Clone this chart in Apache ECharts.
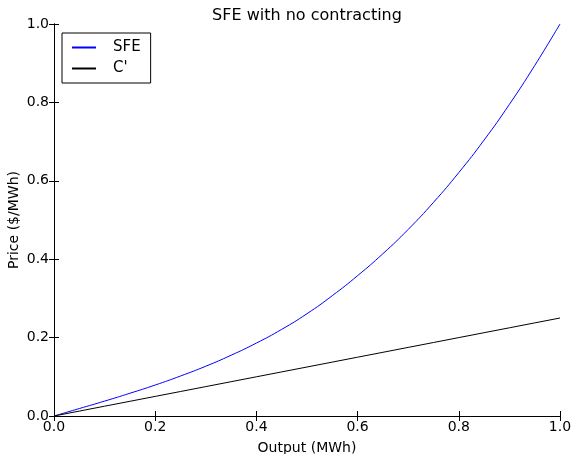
<!DOCTYPE html>
<html>
<head>
<meta charset="utf-8">
<script src="https://cdn.jsdelivr.net/npm/echarts@6/dist/echarts.min.js"></script>
<style>
  html, body { margin: 0; padding: 0; background: #fff; }
  #chart { width: 572px; height: 454px; }
</style>
</head>
<body>
<div id="chart"></div>
<script>
// output (MWh)
var xs = [0, 0.05, 0.1, 0.15, 0.2, 0.25, 0.3, 0.35, 0.4, 0.45, 0.5,
          0.55, 0.6, 0.65, 0.7, 0.75, 0.8, 0.85, 0.9, 0.95, 1.0];
// SFE price
var sfe = [0, 0.019, 0.038, 0.058, 0.079, 0.102, 0.127, 0.155, 0.186, 0.221, 0.261,
           0.307, 0.358, 0.414, 0.476, 0.545, 0.621, 0.704, 0.795, 0.894, 1.0];
// marginal cost C'
var cPrime = [0, 0.0125, 0.025, 0.0375, 0.05, 0.0625, 0.075, 0.0875, 0.1, 0.1125, 0.125,
              0.1375, 0.15, 0.1625, 0.175, 0.1875, 0.2, 0.2125, 0.225, 0.2375, 0.25];

function pairs(ys) {
    return xs.map(function (x, i) { return [x, ys[i]]; });
}

var font = 'DejaVu Sans';
var chart = echarts.init(document.getElementById('chart'));

var axisCommon = {
    type: 'value',
    min: 0,
    max: 1,
    interval: 0.2,
    axisLine: { show: true, lineStyle: { color: '#000', width: 1 } },
    axisTick: { show: true, inside: true, length: 5, lineStyle: { color: '#000' } },
    splitLine: { show: false }
};

var option = {
    animation: false,
    backgroundColor: '#fff',
    title: {
        text: 'SFE with no contracting',
        left: 302,
        textAlign: 'center',
        top: 3,
        textStyle: { fontFamily: font, fontSize: 16, fontWeight: 'normal', color: '#000' }
    },
    legend: {
        orient: 'vertical',
        left: 62,
        top: 33,
        padding: [7, 10, 7, 10],
        itemGap: 6,
        itemWidth: 24,
        itemHeight: 2,
        icon: 'rect',
        borderColor: '#000',
        borderWidth: 1,
        textStyle: { fontFamily: font, fontSize: 15, color: '#000', padding: [0, 0, 0, 12] },
        data: ['SFE', "C'"]
    },
    grid: { left: 54, right: 12, top: 24, bottom: 38, containLabel: false, outerBoundsMode: 'none' },
    xAxis: [
        Object.assign({}, axisCommon, {
            position: 'bottom',
            name: 'Output (MWh)',
            nameLocation: 'middle',
            nameGap: 25,
            nameMoveOverlap: false,
            nameTextStyle: { fontFamily: font, fontSize: 14, color: '#000' },
            axisLabel: {
                fontFamily: font, fontSize: 14, color: '#000', margin: 4,
                formatter: function (v) { return v.toFixed(1); }
            }
        }),
        Object.assign({}, axisCommon, { position: 'top', axisLabel: { show: false } })
    ],
    yAxis: [
        Object.assign({}, axisCommon, {
            position: 'left',
            name: 'Price ($/MWh)',
            nameLocation: 'middle',
            nameGap: 33,
            nameMoveOverlap: false,
            nameTextStyle: { fontFamily: font, fontSize: 14, color: '#000' },
            axisLabel: {
                fontFamily: font, fontSize: 14, color: '#000', margin: 5,
                formatter: function (v) { return v.toFixed(1); }
            }
        }),
        Object.assign({}, axisCommon, { position: 'right', axisLabel: { show: false } })
    ],
    series: [
        {
            name: 'SFE',
            type: 'line',
            smooth: true,
            showSymbol: false,
            color: '#0000ff',
            lineStyle: { color: '#0000ff', width: 1 },
            data: pairs(sfe)
        },
        {
            name: "C'",
            type: 'line',
            showSymbol: false,
            color: '#000',
            lineStyle: { color: '#000', width: 1 },
            data: pairs(cPrime)
        }
    ]
};

chart.setOption(option);
</script>
</body>
</html>
